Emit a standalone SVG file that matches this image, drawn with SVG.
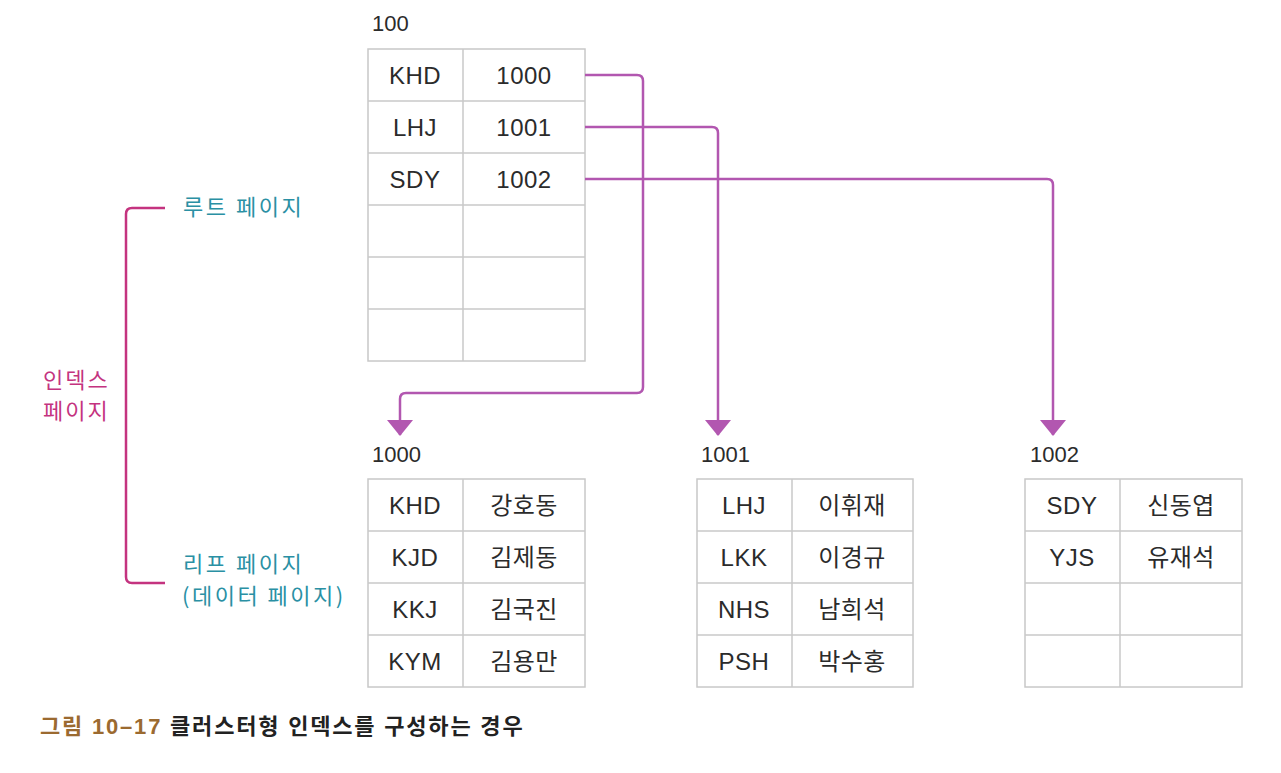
<svg xmlns="http://www.w3.org/2000/svg" width="1281" height="773" viewBox="0 0 1281 773">
<style>
.grid{fill:#fff;stroke:#c8c8c8;stroke-width:1.5}
.ln{stroke:#c8c8c8;stroke-width:1.5}
.t{font-family:"Liberation Sans","Noto Sans CJK KR",sans-serif;font-size:24px;fill:#2b2b2b;text-anchor:middle;letter-spacing:0.5px}
.lab{font-family:"Liberation Sans","Noto Sans CJK KR",sans-serif;font-size:22px;fill:#2b2b2b}
.teal{font-family:"Noto Sans CJK KR",sans-serif;font-size:22px;fill:#2a90a4;letter-spacing:2.5px}
.mag{font-family:"Noto Sans CJK KR",sans-serif;font-size:22px;fill:#c4337f;letter-spacing:2px}
.conn{fill:none;stroke:#b257b0;stroke-width:2.5;stroke-linejoin:round}
.cap{font-family:"Liberation Sans","Noto Sans CJK KR",sans-serif;font-size:22px;font-weight:bold;letter-spacing:1.8px}
</style>
<defs>
<marker id="ah" viewBox="0 0 16 26" refX="15" refY="13" markerWidth="16" markerHeight="26" markerUnits="userSpaceOnUse" orient="auto">
<path d="M0,0 L16,13 L0,26 Z" fill="#b257b0"/>
</marker>
</defs>
<g id="root-page">
<text class="lab" x="372" y="31">100</text>
<rect class="grid" x="368" y="49" width="217" height="312"/>
<line class="ln" x1="463" y1="49" x2="463" y2="361"/>
<line class="ln" x1="368" y1="101" x2="585" y2="101"/>
<line class="ln" x1="368" y1="153" x2="585" y2="153"/>
<line class="ln" x1="368" y1="205" x2="585" y2="205"/>
<line class="ln" x1="368" y1="257" x2="585" y2="257"/>
<line class="ln" x1="368" y1="309" x2="585" y2="309"/>
<text class="t" x="415" y="84">KHD</text><text class="t" x="524" y="84">1000</text>
<text class="t" x="415" y="136">LHJ</text><text class="t" x="524" y="136">1001</text>
<text class="t" x="415" y="188">SDY</text><text class="t" x="524" y="188">1002</text>
</g>
<g id="leaf-1000">
<text class="lab" x="372" y="462">1000</text>
<rect class="grid" x="368" y="479" width="217" height="208"/>
<line class="ln" x1="463" y1="479" x2="463" y2="687"/>
<line class="ln" x1="368" y1="531" x2="585" y2="531"/>
<line class="ln" x1="368" y1="583" x2="585" y2="583"/>
<line class="ln" x1="368" y1="635" x2="585" y2="635"/>
<text class="t" x="415" y="514">KHD</text><text class="t" x="524" y="514">강호동</text>
<text class="t" x="415" y="566">KJD</text><text class="t" x="524" y="566">김제동</text>
<text class="t" x="415" y="618">KKJ</text><text class="t" x="524" y="618">김국진</text>
<text class="t" x="415" y="670">KYM</text><text class="t" x="524" y="670">김용만</text>
</g>
<g id="leaf-1001">
<text class="lab" x="701" y="462">1001</text>
<rect class="grid" x="697" y="479" width="216" height="208"/>
<line class="ln" x1="792" y1="479" x2="792" y2="687"/>
<line class="ln" x1="697" y1="531" x2="913" y2="531"/>
<line class="ln" x1="697" y1="583" x2="913" y2="583"/>
<line class="ln" x1="697" y1="635" x2="913" y2="635"/>
<text class="t" x="744" y="514">LHJ</text><text class="t" x="852" y="514">이휘재</text>
<text class="t" x="744" y="566">LKK</text><text class="t" x="852" y="566">이경규</text>
<text class="t" x="744" y="618">NHS</text><text class="t" x="852" y="618">남희석</text>
<text class="t" x="744" y="670">PSH</text><text class="t" x="852" y="670">박수홍</text>
</g>
<g id="leaf-1002">
<text class="lab" x="1030" y="462">1002</text>
<rect class="grid" x="1025" y="479" width="217" height="208"/>
<line class="ln" x1="1120" y1="479" x2="1120" y2="687"/>
<line class="ln" x1="1025" y1="531" x2="1242" y2="531"/>
<line class="ln" x1="1025" y1="583" x2="1242" y2="583"/>
<line class="ln" x1="1025" y1="635" x2="1242" y2="635"/>
<text class="t" x="1072" y="514">SDY</text><text class="t" x="1181" y="514">신동엽</text>
<text class="t" x="1072" y="566">YJS</text><text class="t" x="1181" y="566">유재석</text>
</g>
<g id="connectors">
<path class="conn" d="M585,75 H637 Q643,75 643,81 V387 Q643,393 637,393 H406 Q400,393 400,399 V435" marker-end="url(#ah)"/>
<path class="conn" d="M585,127 H712 Q718,127 718,133 V435" marker-end="url(#ah)"/>
<path class="conn" d="M585,179 H1047 Q1053,179 1053,185 V435" marker-end="url(#ah)"/>
</g>
<g id="bracket">
<path d="M165,208 H132 Q126,208 126,214 V577 Q126,583 132,583 H165" fill="none" stroke="#c4337f" stroke-width="2.5"/>
<text class="teal" x="183" y="215">루트 페이지</text>
<text class="teal" x="183" y="572">리프 페이지</text>
<text class="teal" x="182" y="604">(데이터 페이지)</text>
<text class="mag" x="43" y="388">인덱스</text>
<text class="mag" x="43" y="419">페이지</text>
</g>
<g id="caption">
<text class="cap" x="40" y="734"><tspan fill="#9b6a30">그림 10–17</tspan><tspan fill="#222"> 클러스터형 인덱스를 구성하는 경우</tspan></text>
</g>
</svg>
